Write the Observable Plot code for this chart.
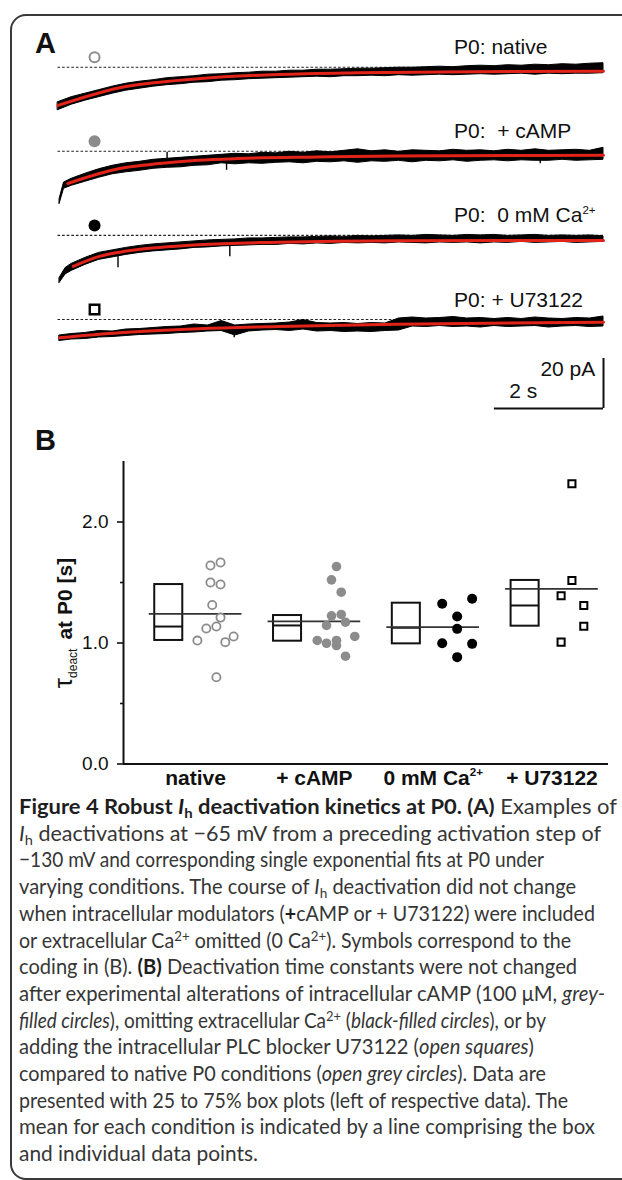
<!DOCTYPE html>
<html><head><meta charset="utf-8">
<script src="https://cdn.jsdelivr.net/npm/d3@7"></script>
<script src="https://cdn.jsdelivr.net/npm/@observablehq/plot@0.6"></script>
<style>
html,body{margin:0;padding:0;background:#fff;}
body{width:622px;height:1180px;overflow:hidden;position:relative;font-family:"Liberation Sans",Arial,sans-serif;}
#frame{position:absolute;left:10px;top:14px;width:720px;height:1166px;border:2px solid #3a3a3a;border-radius:16px;box-sizing:border-box;}
.panel{position:absolute;left:0;}
#plotA{top:0;}
#plotB{top:430px;}
.plabel{position:absolute;font:bold 29px "Liberation Sans",Arial,sans-serif;color:#111;line-height:29px;}
#caption{position:absolute;left:19px;top:792px;font-family:Lato,"Open Sans",sans-serif;font-size:20.5px;color:#363636;line-height:26.7px;white-space:nowrap;}
#caption .ln{width:max-content;transform-origin:0 0;}
#caption b{color:#1e1e1e;}
#caption sub,#caption sup{font-size:0.68em;line-height:0;position:relative;vertical-align:baseline;}
#caption sub{top:0.28em;}
#caption sup{top:-0.5em;}
</style>
</head>
<body>
<div id="frame"></div>
<div id="plotA" class="panel"></div>
<div id="plotB" class="panel"></div>
<div class="plabel" style="left:35px;top:29px">A</div>
<div class="plabel" style="left:35px;top:426px">B</div>
<div id="caption">
<div class="ln"><b>Figure 4 Robust <i>I</i><sub>h</sub> deactivation kinetics at P0. (A)</b> Examples of</div>
<div class="ln"><i>I</i><sub>h</sub> deactivations at −65 mV from a preceding activation step of</div>
<div class="ln">−130 mV and corresponding single exponential fits at P0 under</div>
<div class="ln">varying conditions. The course of <i>I</i><sub>h</sub> deactivation did not change</div>
<div class="ln">when intracellular modulators (<b>+</b>cAMP or + U73122) were included</div>
<div class="ln">or extracellular Ca<sup>2+</sup> omitted (0 Ca<sup>2+</sup>). Symbols correspond to the</div>
<div class="ln">coding in (B). <b>(B)</b> Deactivation time constants were not changed</div>
<div class="ln">after experimental alterations of intracellular cAMP (100 μM, <i>grey-</i></div>
<div class="ln"><i>filled circles</i>), omitting extracellular Ca<sup>2+</sup> (<i>black-filled circles</i>), or by</div>
<div class="ln">adding the intracellular PLC blocker U73122 (<i>open squares</i>)</div>
<div class="ln">compared to native P0 conditions (<i>open grey circles</i>). Data are</div>
<div class="ln">presented with 25 to 75% box plots (left of respective data). The</div>
<div class="ln">mean for each condition is indicated by a line comprising the box</div>
<div class="ln">and individual data points.</div>
</div>
<script>
// ---------------- Panel A data (time in s, current in pA relative to dashed baseline) ----------------
const conditions = ["native", "+ cAMP", "0 mM Ca2+", "+ U73122"];
const traceLabels = ["P0: native", "P0:\u00a0 + cAMP", "P0:\u00a0 0 mM Ca2+", "P0: + U73122"];

const tGrid = [0,0.25,0.5,0.75,1,1.25,1.5,1.75,2,2.25,2.5,2.75,3,3.25,3.5,3.75,4,4.25,4.5,4.75,5,5.25,5.5,5.75,6,6.25,6.5,6.75,7,7.25,7.5,7.75,8,8.25,8.5,8.75,9,9.25,9.5,9.75,10];

const tNative = tGrid;
const loNative = [-17.2,-15.0,-13.4,-12.0,-10.6,-9.4,-8.6,-7.8,-7.2,-6.8,-6.2,-6.0,-5.4,-5.2,-4.8,-4.6,-4.4,-4.2,-4.0,-3.8,-4.0,-3.6,-3.6,-3.4,-3.6,-3.2,-3.4,-3.2,-3.0,-3.2,-3.0,-2.8,-3.0,-2.8,-2.6,-3.0,-2.6,-2.8,-2.6,-2.6,-2.4];
const hiNative = [-14.0,-12.0,-10.6,-9.2,-7.8,-6.6,-5.8,-5.2,-4.4,-4.0,-3.6,-3.0,-2.8,-2.4,-2.2,-1.8,-1.8,-1.4,-1.4,-1.0,-1.0,-0.8,-0.6,-0.6,-0.4,-0.2,-0.2,0.0,0.2,0.0,0.4,0.6,0.4,0.8,0.6,1.0,0.8,1.2,1.0,1.4,1.6];

const tCamp = [0.03, 0.11, ...tGrid.slice(1)];
const loCamp = [-21.0,-15.0,-13.8,-12.2,-10.6,-9.2,-8.4,-7.8,-7.0,-6.6,-6.4,-5.8,-5.6,-4.8,-5.2,-4.8,-5.0,-4.6,-4.4,-4.8,-4.2,-4.4,-4.0,-4.6,-4.0,-4.2,-3.8,-4.4,-3.8,-4.0,-3.6,-4.2,-3.8,-3.6,-4.0,-3.6,-3.8,-3.8,-3.4,-3.8,-3.6,-3.4];
const hiCamp = [-19.0,-12.5,-11.0,-9.0,-7.2,-5.8,-4.8,-4.2,-3.4,-3.0,-2.6,-2.2,-1.8,-1.4,-1.0,-1.2,-0.6,-0.8,-0.2,-0.6,0.0,-0.4,0.2,0.8,0.0,0.4,-0.2,0.4,0.2,0.0,0.6,0.2,0.4,0.0,0.6,0.2,0.8,0.2,0.4,0.6,0.2,1.4];

const tCa = [0.03, 0.14, ...tGrid.slice(1)];
const loCa = [-19.0,-15.6,-14.2,-11.8,-9.8,-8.8,-7.8,-7.0,-6.4,-6.0,-5.6,-5.0,-4.8,-4.4,-4.2,-4.0,-3.8,-3.8,-3.4,-3.6,-3.2,-3.4,-3.0,-3.2,-3.0,-3.2,-2.8,-3.0,-3.2,-2.8,-3.0,-2.8,-3.2,-2.8,-3.0,-2.6,-3.0,-2.8,-2.6,-3.0,-2.8,-2.6];
const hiCa = [-17.0,-13.0,-11.4,-9.0,-7.0,-6.0,-5.0,-4.2,-3.6,-3.2,-2.8,-2.4,-2.0,-1.8,-1.6,-1.2,-1.2,-1.0,-0.8,-0.8,-0.6,-0.4,-0.6,-0.2,-0.4,-0.2,0.0,-0.2,0.2,0.0,-0.2,0.2,0.0,0.2,-0.2,0.0,0.2,-0.2,0.0,-0.2,0.0,-0.4];

const tU = [0.03, ...tGrid.slice(1)];
const loU = [-8.6,-8.0,-7.8,-7.2,-7.0,-6.6,-6.2,-6.0,-5.8,-5.4,-5.2,-4.8,-4.6,-6.4,-4.8,-4.4,-4.2,-4.6,-4.0,-4.8,-4.6,-5.0,-4.8,-5.0,-4.6,-4.4,-2.8,-3.0,-2.6,-3.0,-2.8,-3.2,-2.6,-3.0,-2.8,-2.6,-3.2,-2.8,-2.6,-3.0,-2.8];
const hiU = [-6.4,-5.8,-5.4,-4.6,-4.8,-4.0,-3.8,-3.4,-3.0,-2.8,-2.0,-2.4,-0.6,-2.4,-2.0,-1.8,-1.6,-1.2,-0.2,-1.4,-1.6,-1.4,-1.8,-1.4,-1.6,0.4,0.8,0.4,0.6,1.0,0.4,0.6,0.2,0.6,0.2,0.8,0.4,0.2,0.6,0.4,1.2];

// single exponential fits (red)
const fitNative = [[0,-15.3],[0.39,-12.6],[1.13,-8.2],[1.86,-6.0],[2.57,-4.6],[4.04,-2.9],[5.49,-2.2],[7.66,-1.8],[10,-1.6]];
const fitCamp = [[0.18,-12.9],[0.76,-8.9],[1.13,-6.9],[1.86,-4.9],[2.57,-3.6],[3.3,-2.9],[4.75,-2.3],[6.2,-1.9],[10,-1.6]];
const fitCa = [[0.28,-12.4],[0.76,-8.4],[1.13,-6.7],[1.86,-4.8],[2.57,-3.7],[4.04,-2.7],[6.2,-2.1],[10,-2.0]];
const fitU = [[0.03,-7.3],[1.13,-5.3],[2.58,-3.7],[4.04,-2.8],[6.2,-1.9],[10,-1.1]];

// single sharp deflections in the traces
const spikeCond = ["+ cAMP","+ cAMP","+ cAMP","0 mM Ca2+","0 mM Ca2+","+ U73122"];
const spikeT = [2.0, 3.09, 8.84, 1.1, 3.15, 3.23];
const spikeFrom = [-3.0, -3.4, -3.6, -6.0, -3.5, -4.6];
const spikeTo = [-0.4, -7.6, -5.0, -12.9, -8.5, -7.3];

const scaleBarPA = 20, scaleBarS = 2;

// ---------------- Panel B data (tau_deact in s) ----------------
const catLabels = ["native", "+ cAMP", "0 mM Ca2+", "+ U73122"];
const boxQ1 = [1.021, 1.015, 0.993, 1.139];
const boxMedian = [1.136, 1.145, 1.126, 1.31];
const boxQ3 = [1.483, 1.227, 1.329, 1.517];
const groupMean = [1.241, 1.178, 1.131, 1.448];
const nativeTau = [1.64, 1.665, 1.50, 1.483, 1.314, 1.21, 1.136, 1.12, 1.02, 1.007, 1.054, 0.717];
const nativeJitter = [0.125, 0.21, 0.125, 0.21, 0.14, 0.21, 0.175, 0.09, 0.015, 0.25, 0.32, 0.175];
const campTau = [1.632, 1.522, 1.42, 1.225, 1.236, 1.145, 1.172, 1.054, 1.021, 0.998, 1.021, 0.979, 0.891];
const campJitter = [0.186, 0.144, 0.226, 0.144, 0.226, 0.102, 0.262, 0.34, 0.024, 0.102, 0.186, 0.186, 0.262];
const caTau = [1.324, 1.365, 1.219, 1.117, 0.998, 0.993, 0.883];
const caJitter = [0.076, 0.328, 0.202, 0.202, 0.076, 0.328, 0.202];
const uTau = [2.316, 1.517, 1.39, 1.31, 1.139, 1.007];
const uJitter = [0.168, 0.168, 0.077, 0.268, 0.268, 0.077];
const yTicksMajor = [0, 1, 2];
const yTicksMinor = [0.5, 1.5];
const yLabelParts = ["τ", "deact", " at P0 [s]"];

// ---------------- build tables ----------------
const envRows = (cond, t, lo, hi) => t.map((x, i) => ({cond, t: x, lo: lo[i], hi: hi[i]}));
const envelope = [
  ...envRows(conditions[0], tNative, loNative, hiNative),
  ...envRows(conditions[1], tCamp, loCamp, hiCamp),
  ...envRows(conditions[2], tCa, loCa, hiCa),
  ...envRows(conditions[3], tU, loU, hiU)
];
const fits = [fitNative, fitCamp, fitCa, fitU].flatMap((f, i) => f.map(([t, v]) => ({cond: conditions[i], t, v})));
const spikes = spikeT.map((t, i) => ({cond: spikeCond[i], t, from: spikeFrom[i], to: spikeTo[i]}));

const font = '"Liberation Sans", Arial, sans-serif';
const symT = 0.67, symI = 4.0, labT = 7.26, labI = 5.2;
const barTop = -15.6;
const lastCond = [conditions[3]];

const plotA = Plot.plot({
  width: 622, height: 430,
  marginTop: 32.7, marginBottom: 60.9, marginLeft: 57.5, marginRight: 19,
  style: {fontFamily: font, background: "transparent", color: "#111", overflow: "visible"},
  x: {domain: [0, 10], axis: null},
  y: {domain: [-20.04, 13.6], axis: null},
  fy: {domain: conditions, axis: null, padding: 0, round: false},
  marks: [
    Plot.ruleY(conditions, {fy: d => d, y: 0, x1: 0, x2: 10, stroke: "#222", strokeWidth: 1.1, strokeDasharray: "2.6,2"}),
    Plot.areaY(envelope, {fy: "cond", x: "t", y1: "lo", y2: "hi", fill: "#000", stroke: "#000", strokeWidth: 1}),
    Plot.ruleX(spikes, {fy: "cond", x: "t", y1: "from", y2: "to", stroke: "#000", strokeWidth: 1.4}),
    Plot.line(fits, {fy: "cond", x: "t", y: "v", z: "cond", stroke: "#e2231a", strokeWidth: 3, curve: "monotone-x"}),
    Plot.dot([conditions[0]], {fy: d => d, x: symT, y: symI, r: 5, fill: "white", stroke: "#8c8c8c", strokeWidth: 2}),
    Plot.dot([conditions[1]], {fy: d => d, x: symT, y: symI, r: 6, fill: "#8c8c8c"}),
    Plot.dot([conditions[2]], {fy: d => d, x: symT, y: symI, r: 6, fill: "#000"}),
    Plot.dot([conditions[3]], {fy: d => d, x: symT, y: symI, r: 5.4, symbol: "square", fill: "white", stroke: "#000", strokeWidth: 2.4}),
    Plot.text(conditions, {fy: d => d, x: labT, y: labI, text: (d, i) => traceLabels[i], textAnchor: "start", lineAnchor: "bottom", fontSize: 21, fill: "#111"}),
    Plot.ruleX(lastCond, {fy: d => d, x: 10, y1: barTop, y2: barTop - scaleBarPA, stroke: "#111", strokeWidth: 2}),
    Plot.ruleY(lastCond, {fy: d => d, y: barTop - scaleBarPA, x1: 10 - scaleBarS, x2: 10, stroke: "#111", strokeWidth: 2}),
    Plot.text(lastCond, {fy: d => d, x: 9.85, y: -22.4, text: () => `${scaleBarPA} pA`, textAnchor: "end", lineAnchor: "bottom", fontSize: 21, fill: "#111"}),
    Plot.text(lastCond, {fy: d => d, x: 8.53, y: -31.2, text: () => `${scaleBarS} s`, lineAnchor: "bottom", fontSize: 21, fill: "#111"})
  ]
});
document.getElementById("plotA").appendChild(plotA);

const rows = (tau, jit, g) => tau.map((v, i) => ({g, v, x: g + jit[i]}));
const boxLeft = -0.344, boxRight = -0.108, meanHalf = 0.39;

const plotB = Plot.plot({
  width: 622, height: 370,
  marginTop: 31, marginBottom: 36.5, marginLeft: 123, marginRight: 14,
  style: {fontFamily: font, background: "transparent", color: "#111", overflow: "visible"},
  x: {domain: [-0.607, 3.476]},
  y: {domain: [0, 2.5]},
  marks: [
    Plot.axisY({ticks: yTicksMajor, tickSize: 6, tickPadding: 9, tickFormat: d3.format(".1f"), fontSize: 19, strokeWidth: 1.6, label: null}),
    Plot.axisY({ticks: yTicksMinor, tickSize: 3, tickFormat: () => "", strokeWidth: 1.6, label: null}),
    Plot.axisX({ticks: [0, 1, 2, 3], tickSize: 0, tickPadding: 6, tickFormat: i => catLabels[i], fontSize: 21, fontWeight: "bold", label: null}),
    Plot.ruleX([-0.607], {y1: 0, y2: 2.5, stroke: "#111", strokeWidth: 2}),
    Plot.ruleY([0], {stroke: "#111", strokeWidth: 2}),
    Plot.rect(catLabels, {x1: (d, i) => i + boxLeft, x2: (d, i) => i + boxRight, y1: (d, i) => boxQ1[i], y2: (d, i) => boxQ3[i], fill: "none", stroke: "#111", strokeWidth: 2}),
    Plot.ruleY(catLabels, {y: (d, i) => boxMedian[i], x1: (d, i) => i + boxLeft, x2: (d, i) => i + boxRight, stroke: "#111", strokeWidth: 2}),
    Plot.ruleY(catLabels, {y: (d, i) => groupMean[i], x1: (d, i) => i - meanHalf, x2: (d, i) => i + meanHalf, stroke: "#333", strokeWidth: 1.8}),
    Plot.dot(rows(nativeTau, nativeJitter, 0), {x: "x", y: "v", r: 4.1, fill: "white", stroke: "#8c8c8c", strokeWidth: 1.8}),
    Plot.dot(rows(campTau, campJitter, 1), {x: "x", y: "v", r: 4.8, fill: "#8c8c8c"}),
    Plot.dot(rows(caTau, caJitter, 2), {x: "x", y: "v", r: 5, fill: "#000"}),
    Plot.dot(rows(uTau, uJitter, 3), {x: "x", y: "v", r: 4, symbol: "square", fill: "white", stroke: "#000", strokeWidth: 2}),
    Plot.text([yLabelParts.join("")], {frameAnchor: "left", dx: -52, y: 1.165, rotate: -90, textAnchor: "middle", lineAnchor: "bottom", fontSize: 21, fontWeight: "bold", fill: "#111"})
  ]
});
document.getElementById("plotB").appendChild(plotB);

// ---------------- text refinements (sub/superscripts) ----------------
const NS = "http://www.w3.org/2000/svg";
function superscriptCa(svg) {
  svg.querySelectorAll("text").forEach(t => {
    const s = t.textContent;
    const k = s.indexOf("Ca2+");
    if (k < 0) return;
    const size = parseFloat(getComputedStyle(t).fontSize) || 21;
    t.textContent = s.slice(0, k + 2);
    const sp = document.createElementNS(NS, "tspan");
    sp.setAttribute("dy", (-0.42 * size).toFixed(1));
    sp.setAttribute("font-size", (0.55 * size).toFixed(1));
    sp.textContent = "2+";
    t.appendChild(sp);
  });
}
superscriptCa(plotA);
superscriptCa(plotB);

plotB.querySelectorAll("text").forEach(t => {
  if (t.textContent !== yLabelParts.join("")) return;
  t.textContent = "";
  const a = document.createElementNS(NS, "tspan");
  a.setAttribute("font-size", "26"); a.setAttribute("font-weight", "normal");
  a.textContent = yLabelParts[0];
  const b = document.createElementNS(NS, "tspan");
  b.setAttribute("font-size", "12"); b.setAttribute("font-weight", "normal"); b.setAttribute("dy", "5");
  b.textContent = yLabelParts[1];
  const c = document.createElementNS(NS, "tspan");
  c.setAttribute("font-size", "21"); c.setAttribute("dy", "-5"); c.setAttribute("dx", "9");
  c.textContent = yLabelParts[2].trim();
  t.append(a, b, c);
});

// ---------------- caption fitting (each line fitted to the measure of the printed line) ----------------
const cap = document.getElementById("caption");
const lines = cap.querySelectorAll(".ln");
const lineEnds = [617, 601, 544, 576, 595, 571, 577, 605, 546, 534, 546, 568, 595, 258];
const probe = document.createElement("span");
probe.style.cssText = "display:inline-block;width:0;height:0;vertical-align:baseline";
lines[0].appendChild(probe);
const baseOff = probe.getBoundingClientRect().top - cap.getBoundingClientRect().top;
probe.remove();
cap.style.top = (814 - baseOff) + "px";
const capLeft = 19;
lines.forEach((ln, i) => {
  const w = ln.getBoundingClientRect().width;
  const k = Math.max(0.85, Math.min(1.08, (lineEnds[i] - capLeft) / w));
  ln.style.transform = `scaleX(${k})`;
});
</script>
</body></html>
